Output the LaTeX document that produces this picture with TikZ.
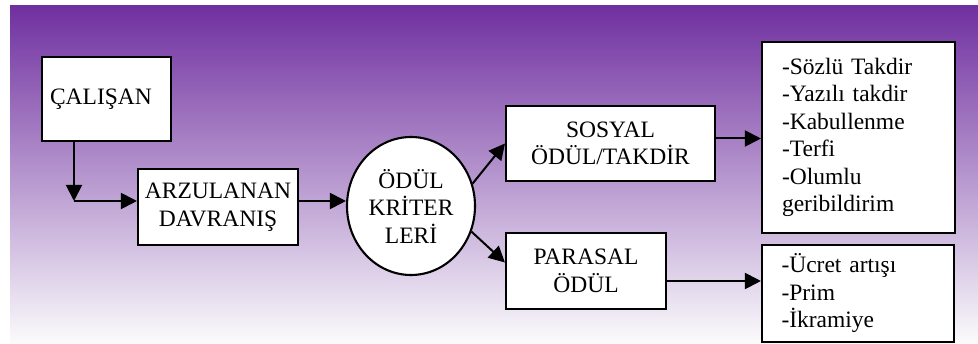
\documentclass[tikz,border=0pt]{standalone}
\usepackage{fontspec}
\setmainfont{Liberation Serif}
\usetikzlibrary{arrows.meta,positioning,shapes.geometric}
\definecolor{mor}{RGB}{112,48,160}
\definecolor{acik}{RGB}{251,251,252}

\begin{document}
\begin{tikzpicture}[x=1pt,y=-1pt,>={Triangle[length=16pt,width=16pt]},
  font=\fontsize{23.5}{27.5}\selectfont,
  kutu/.style={draw,line width=2.1pt,fill=white,inner sep=0pt,align=center},
  liste/.style={kutu,align=left,text width=153pt},
  ok/.style={->,line width=2pt}]
\useasboundingbox (0,0) rectangle (978,344);
\shade[top color=mor,bottom color=acik] (10,6) rectangle (978,344);
% kutular
\node[kutu,align=left,text width=113pt,minimum width=129pt,minimum height=84pt] (calisan) at (106.5,99) {ÇALIŞAN};
\node[kutu,minimum width=160pt,minimum height=76pt] (arzu) at (218,207) {ARZULANAN\\DAVRANIŞ};
\node[kutu,ellipse,minimum width=128pt,minimum height=138pt] (kriter) at (411,206) {ÖDÜL\\KRİTER\\LERİ};
\node[kutu,minimum width=209pt,minimum height=75pt] (sosyal) at (610.5,143.5) {SOSYAL\\ÖDÜL/TAKDİR};
\node[kutu,minimum width=160pt,minimum height=76pt] (parasal) at (586,271) {PARASAL\\ÖDÜL};
\node[liste,minimum width=193pt,minimum height=191pt] (liste1) at (858.5,137.5)
  {-Sözlü Takdir\\-Yazılı takdir\\-Kabullenme\\-Terfi\\-Olumlu\\geribildirim};
\node[liste,minimum width=192pt,minimum height=97pt] (liste2) at (858,293.5)
  {-Ücret artışı\\-Prim\\-İkramiye};
% oklar
\coordinate (kose) at (74,201);
\draw[ok] (calisan.south -| kose) -- (kose);
\draw[ok] (kose) -- (arzu.west |- kose);
\draw[ok] (arzu.east |- kose) -- (kose -| kriter.west);
\draw[ok] (kriter.20) -- (sosyal.west);
\draw[ok] (kriter.-23) -- (parasal.174);
\draw[ok] ([yshift=5pt]sosyal.east) -- ([yshift=5pt]sosyal.east -| liste1.west);
\draw[ok] ([yshift=-10pt]parasal.east) -- ([yshift=-10pt]parasal.east -| liste2.west);
\end{tikzpicture}
\end{document}
